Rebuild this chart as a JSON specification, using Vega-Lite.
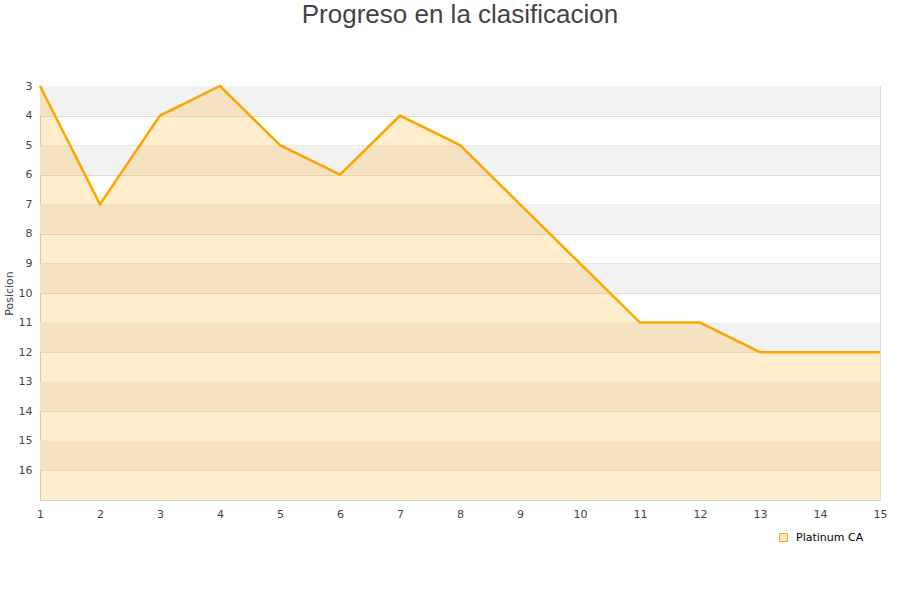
{
  "$schema": "https://vega.github.io/schema/vega-lite/v6.json",
  "width": 840,
  "height": 414,
  "autosize": {"type": "none"},
  "padding": {"left": 40, "top": 86, "right": 20, "bottom": 100},
  "background": "white",
  "title": {"text": "Progreso en la clasificacion", "font": "Liberation Sans", "fontSize": 26, "fontWeight": "normal", "color": "#444444", "anchor": "middle", "offset": 52},
  "config": {
    "view": {"stroke": "#dddddd"},
    "axis": {"labelFont": "DejaVu Sans", "labelFontSize": 11, "labelColor": "#444444", "titleFont": "DejaVu Sans", "titleFontSize": 11, "titleFontWeight": "normal", "titleColor": "#444444", "domainColor": "#d0d0d0", "gridColor": "#dddddd", "ticks": false, "labelFlush": false, "labelOverlap": false, "zindex": 1}
  },
  "datasets": {
    "bands": [
      {"posicion": 3, "hasta": 4}, {"posicion": 5, "hasta": 6}, {"posicion": 7, "hasta": 8},
      {"posicion": 9, "hasta": 10}, {"posicion": 11, "hasta": 12}, {"posicion": 13, "hasta": 14},
      {"posicion": 15, "hasta": 16}
    ],
    "progreso": [
      {"jornada": 1, "posicion": 3, "equipo": "Platinum CA"},
      {"jornada": 2, "posicion": 7, "equipo": "Platinum CA"},
      {"jornada": 3, "posicion": 4, "equipo": "Platinum CA"},
      {"jornada": 4, "posicion": 3, "equipo": "Platinum CA"},
      {"jornada": 5, "posicion": 5, "equipo": "Platinum CA"},
      {"jornada": 6, "posicion": 6, "equipo": "Platinum CA"},
      {"jornada": 7, "posicion": 4, "equipo": "Platinum CA"},
      {"jornada": 8, "posicion": 5, "equipo": "Platinum CA"},
      {"jornada": 9, "posicion": 7, "equipo": "Platinum CA"},
      {"jornada": 10, "posicion": 9, "equipo": "Platinum CA"},
      {"jornada": 11, "posicion": 11, "equipo": "Platinum CA"},
      {"jornada": 12, "posicion": 11, "equipo": "Platinum CA"},
      {"jornada": 13, "posicion": 12, "equipo": "Platinum CA"},
      {"jornada": 14, "posicion": 12, "equipo": "Platinum CA"},
      {"jornada": 15, "posicion": 12, "equipo": "Platinum CA"}
    ]
  },
  "encoding": {
    "y": {"field": "posicion", "type": "quantitative", "scale": {"domain": [3, 17], "reverse": true, "nice": false, "zero": false},
          "axis": {"title": "Posicion", "values": [3,4,5,6,7,8,9,10,11,12,13,14,15,16], "format": "d", "grid": true, "labelPadding": 8, "titlePadding": 4}}
  },
  "layer": [
    {
      "data": {"name": "bands"},
      "mark": {"type": "rect", "color": "#f2f2f2"},
      "encoding": {
        "y2": {"field": "hasta"}
      }
    },
    {
      "data": {"name": "progreso"},
      "mark": {"type": "area", "color": "#FFA500", "opacity": 0.2},
      "encoding": {
        "x": {"field": "jornada", "type": "quantitative", "scale": {"domain": [1, 15], "nice": false}, "axis": {"title": null, "values": [1,2,3,4,5,6,7,8,9,10,11,12,13,14,15], "format": "d", "grid": false, "labelPadding": 8}},
        "y2": {"datum": 17}
      }
    },
    {
      "data": {"name": "progreso"},
      "mark": {"type": "line", "strokeWidth": 2.5},
      "encoding": {
        "x": {"field": "jornada", "type": "quantitative", "axis": {"title": null, "values": [1,2,3,4,5,6,7,8,9,10,11,12,13,14,15], "format": "d", "grid": false, "labelPadding": 8}},
        "color": {"field": "equipo", "type": "nominal", "scale": {"range": ["#FFA500"]},
                  "legend": {"title": null, "orient": "none", "legendX": 738, "legendY": 446, "symbolType": "square", "symbolSize": 64, "labelOffset": 7, "labelFont": "DejaVu Sans", "labelFontSize": 11, "labelColor": "#000000",
                             "encode": {"symbols": {"update": {"fill": {"value": "#FFEBC8"}, "stroke": {"value": "#9a8a70"}, "strokeWidth": {"value": 1}}}}}}
      }
    }
  ]
}
